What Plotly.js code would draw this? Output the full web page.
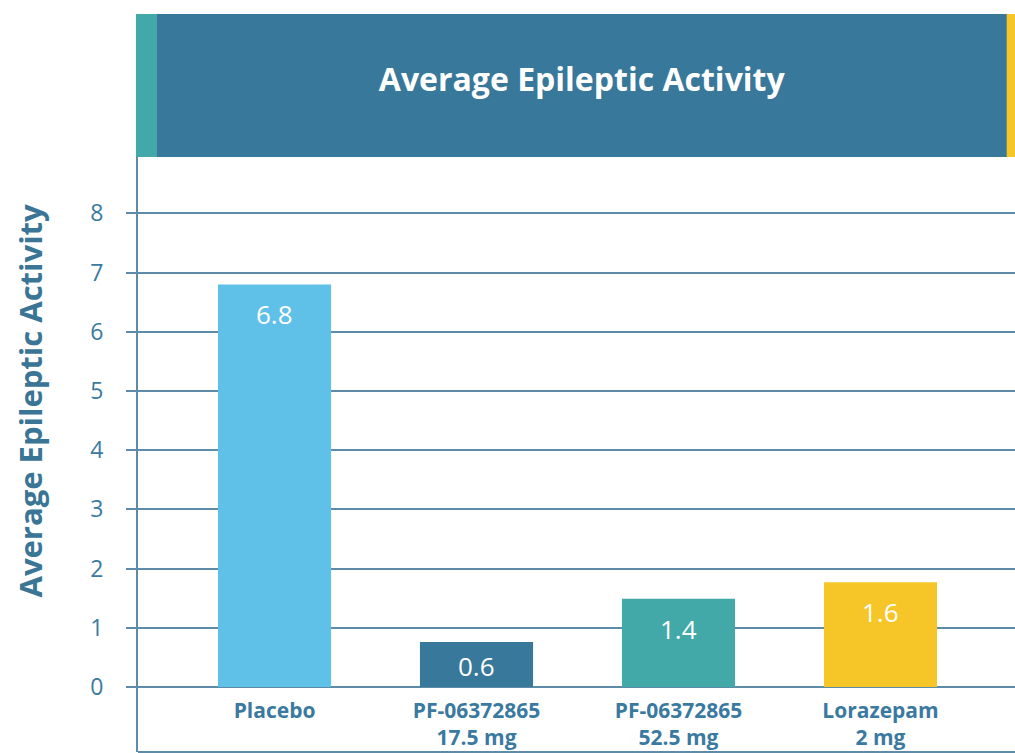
<!DOCTYPE html>
<html>
<head>
<meta charset="utf-8">
<script src="https://cdn.plot.ly/plotly-3.0.1.min.js"></script>
<style>html,body{margin:0;padding:0;background:#fff;}#chart{width:1015px;height:753px;}</style>
</head>
<body>
<div id="chart"></div>
<script>
// Data
var categories = ["Placebo", "PF-06372865<br>17.5 mg", "PF-06372865<br>52.5 mg", "Lorazepam<br>2 mg"];
var values = [6.8, 0.76, 1.49, 1.77];          // bar heights as drawn
var valueLabels = ["6.8", "0.6", "1.4", "1.6"]; // printed labels
var barColors = ["#5fc0e8", "#38789a", "#42a8a8", "#f6c628"];
var yTicks = [0, 1, 2, 3, 4, 5, 6, 7, 8];
var chartTitle = "Average Epileptic Activity";
var yTitle = "Average Epileptic Activity";

var textBlue = "#3a7aa0";
var gridCol = "#5e8ca8";

var trace = {
  type: "bar",
  x: categories,
  y: values,
  width: 0.56,
  marker: {color: barColors, line: {width: 0}},
  hoverinfo: "none",
  showlegend: false
};

var annotations = values.map(function (v, i) {
  return {
    xref: "x", yref: "y", x: categories[i], y: v,
    text: valueLabels[i], showarrow: false,
    yanchor: "middle", yshift: -Math.min(30, v * 59.2 / 2 + 1),
    font: {family: "Open Sans", size: 26, color: "#ffffff"}
  };
});

// y-axis title (placed as a rotated annotation so it sits where the reference has it)
annotations.push({
  xref: "paper", yref: "paper", x: -0.123, y: 0.591,
  xanchor: "center", yanchor: "middle", textangle: -90,
  text: "<b>" + yTitle + "</b>", showarrow: false,
  font: {family: "Open Sans", size: 31, color: "#3a7595"}
});

var layout = {
  width: 1015, height: 753,
  margin: {l: 138, r: 0, t: 157, b: 1, pad: 0},
  paper_bgcolor: "#ffffff", plot_bgcolor: "#ffffff",
  font: {family: "Open Sans", color: textBlue},
  title: {
    text: "<b>" + chartTitle + "</b>",
    xref: "paper", x: 0.506, xanchor: "center",
    yref: "container", y: 1 - 80 / 753, yanchor: "middle",
    font: {family: "Open Sans", size: 32, color: "#ffffff"}
  },
  xaxis: {
    type: "category",
    range: [-0.676, 3.666],
    anchor: "free", position: 0.1092,
    showline: false, showgrid: false, zeroline: false,
    ticks: "", ticklabelstandoff: 9,
    tickfont: {family: "Open Sans", size: 21, color: textBlue, weight: "bold"},
    fixedrange: true
  },
  yaxis: {
    range: [-1.098, 8.953],
    tickvals: yTicks,
    ticktext: yTicks.map(String),
    showgrid: true, gridcolor: gridCol, gridwidth: 2,
    zeroline: true, zerolinecolor: gridCol, zerolinewidth: 2,
    showline: true, linecolor: gridCol, linewidth: 2,
    ticks: "outside", ticklen: 10, tickcolor: gridCol, tickwidth: 2,
    ticklabelstandoff: 18,
    tickfont: {family: "Open Sans", size: 23, color: textBlue},
    fixedrange: true
  },
  shapes: [
    {type: "rect", xref: "paper", yref: "paper", x0: -0.0023, x1: 1, y0: 1, y1: 1 + 143 / 595,
     fillcolor: "#38789a", line: {width: 0}, layer: "above"},
    {type: "rect", xref: "paper", yref: "paper", x0: -0.0023, x1: 19 / 877, y0: 1, y1: 1 + 143 / 595,
     fillcolor: "#42a8a8", line: {width: 0}, layer: "above"},
    {type: "rect", xref: "paper", yref: "paper", x0: 868.7 / 877, x1: 1, y0: 1, y1: 1 + 143 / 595,
     fillcolor: "#f6c628", line: {width: 0}, layer: "above"},
    {type: "line", xref: "paper", yref: "paper", x0: 0, x1: 1, y0: 0, y1: 0,
     line: {color: gridCol, width: 2}}
  ],
  annotations: annotations,
  bargap: 0.44
};

Plotly.newPlot("chart", [trace], layout, {staticPlot: true, displayModeBar: false});
</script>
</body>
</html>
